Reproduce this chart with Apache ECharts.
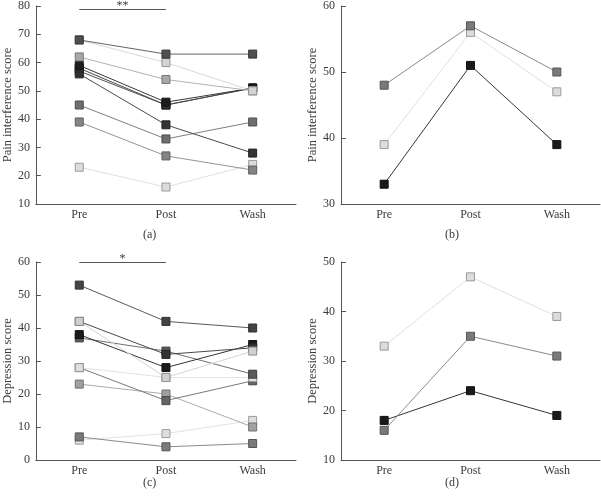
<!DOCTYPE html>
<html>
<head>
<meta charset="utf-8">
<script src="https://cdn.jsdelivr.net/npm/echarts@6/dist/echarts.min.js"></script>
<style>html,body{margin:0;padding:0;background:#fff}#c{width:601px;height:496px}</style>
</head>
<body>
<div id="c"></div>
<script>
// ---- Data ----
var categories = ['Pre', 'Post', 'Wash'];

// Panel (a): pain interference, individual subjects
var painA = [
  [68, 63, 63],
  [68, 60, 50],
  [62, 54, 50],
  [59, 46, 51],
  [58, 45, 51],
  [57, 45, 51],
  [56, 38, 28],
  [45, 33, 39],
  [39, 27, 22],
  [23, 16, 24]
];
var painAShade = ['#4f4f4f', '#d4d4d4', '#a8a8a8', '#1e1e1e', '#2e2e2e', '#3a3a3a', '#333333', '#6e6e6e', '#858585', '#dcdcdc'];

// Panel (b): pain interference, three subjects
var painB = [
  [48, 57, 50],
  [39, 56, 47],
  [33, 51, 39]
];
var painBShade = ['#7a7a7a', '#dcdcdc', '#1a1a1a'];

// Panel (c): depression, individual subjects
var depC = [
  [53, 42, 40],
  [42, 25, 33],
  [42, 32, 34],
  [38, 28, 35],
  [37, 33, 26],
  [28, 25, 25],
  [28, 18, 24],
  [23, 20, 10],
  [7, 4, 5],
  [6, 8, 12]
];
var depCShade = ['#444444', '#cfcfcf', '#333333', '#1a1a1a', '#5a5a5a', '#dedede', '#666666', '#a0a0a0', '#7a7a7a', '#dedede'];

// Panel (d): depression, three subjects
var depD = [
  [33, 47, 39],
  [16, 35, 31],
  [18, 24, 19]
];
var depDShade = ['#dcdcdc', '#7a7a7a', '#1a1a1a'];

var sigA = {label: '**', value: 79};
var sigC = {label: '*', value: 60};

var yNames = ['Pain interference score', 'Pain interference score', 'Depression score', 'Depression score'];
var yRanges = [[10, 80, 10], [30, 60, 10], [0, 60, 10], [10, 50, 10]];
var panelLabels = ['(a)', '(b)', '(c)', '(d)'];

// ---- Chart ----
var FONT = '"Liberation Serif", "DejaVu Serif", serif';
var TXT = '#3a3a3a';
var AX = '#555';

var grids = [
  {left: 32, top: 5, width: 264, height: 199},
  {left: 341, top: 5, width: 259, height: 199},
  {left: 32, top: 262, width: 264, height: 198},
  {left: 341, top: 262, width: 259, height: 198}
];

function edgeOf(c) {
  var v = parseInt(c.slice(1, 3), 16);
  v = Math.max(0, Math.round(v * 0.7));
  var h = ('0' + v.toString(16)).slice(-2);
  return '#' + h + h + h;
}
function lineOf(c) {
  var v = parseInt(c.slice(1, 3), 16);
  v = Math.min(235, Math.round(v + (255 - v) * 0.12));
  var h = ('0' + v.toString(16)).slice(-2);
  return '#' + h + h + h;
}

var xAxes = [], yAxes = [], series = [];
for (var i = 0; i < 4; i++) {
  xAxes.push({
    type: 'category', gridIndex: i, data: categories, boundaryGap: true,
    axisLine: {lineStyle: {color: AX, width: 1}},
    axisTick: {inside: true, length: 5, lineStyle: {color: AX}},
    axisLabel: {color: TXT, fontFamily: FONT, fontSize: 12, margin: 5},
    splitLine: {show: false}
  });
  yAxes.push({
    type: 'value', gridIndex: i, min: yRanges[i][0], max: yRanges[i][1], interval: yRanges[i][2],
    name: yNames[i], nameLocation: 'middle', nameGap: 21,
    nameTextStyle: {color: TXT, fontFamily: FONT, fontSize: 12.5},
    axisLine: {show: true, lineStyle: {color: AX, width: 1}},
    axisTick: {show: true, inside: true, length: 5, lineStyle: {color: AX}},
    axisLabel: {color: TXT, fontFamily: FONT, fontSize: 12, margin: 6},
    splitLine: {show: false}
  });
}

function addPanel(idx, data, shades) {
  data.forEach(function (row, k) {
    var c = shades[k];
    series.push({
      type: 'line', xAxisIndex: idx, yAxisIndex: idx, data: row,
      symbol: 'rect', symbolSize: 8, showSymbol: true, animation: false,
      lineStyle: {color: lineOf(c), width: 1},
      itemStyle: {color: c, borderColor: edgeOf(c), borderWidth: 1},
      z: 2 + (10 - k) * 0.01
    });
  });
}
addPanel(0, painA, painAShade);
addPanel(1, painB, painBShade);
addPanel(2, depC, depCShade);
addPanel(3, depD, depDShade);

function sigSeries(idx, sig) {
  return {
    type: 'line', xAxisIndex: idx, yAxisIndex: idx, data: [], silent: true, animation: false,
    markLine: {
      symbol: 'none', silent: true, animation: false,
      lineStyle: {color: '#555', width: 1, type: 'solid'},
      label: {show: true, position: 'middle', formatter: sig.label, color: TXT, fontFamily: FONT, fontSize: 12, distance: -3},
      data: [[{coord: ['Pre', sig.value]}, {coord: ['Post', sig.value]}]]
    }
  };
}
series.push(sigSeries(0, sigA));
series.push(sigSeries(2, sigC));

var titles = [
  {text: panelLabels[0], left: 143, top: 229},
  {text: panelLabels[1], left: 445, top: 229},
  {text: panelLabels[2], left: 143, top: 477},
  {text: panelLabels[3], left: 445, top: 477}
].map(function (t) {
  t.textStyle = {color: TXT, fontFamily: FONT, fontSize: 12, fontWeight: 'normal'};
  t.padding = 0;
  return t;
});

var chart = echarts.init(document.getElementById('c'), null, {renderer: 'canvas'});
chart.setOption({
  backgroundColor: '#fff',
  animation: false,
  title: titles,
  grid: grids,
  xAxis: xAxes,
  yAxis: yAxes,
  series: series
});
</script>
</body>
</html>
